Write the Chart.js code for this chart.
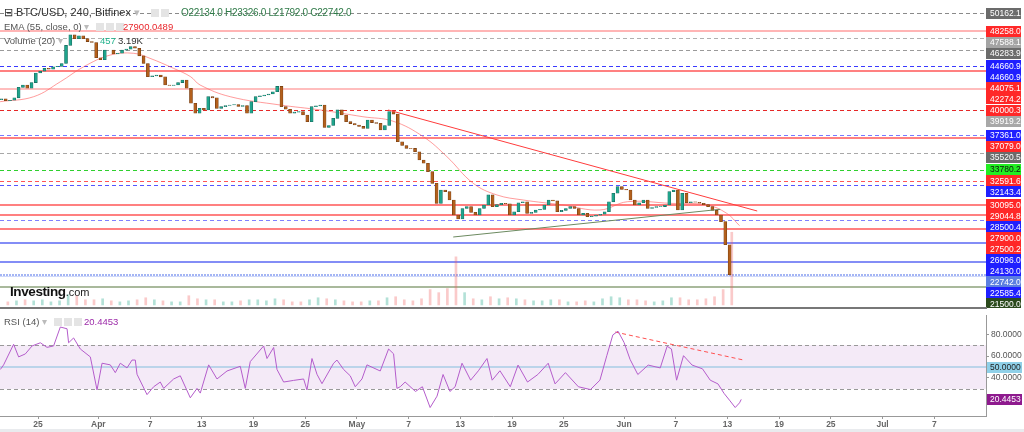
<!DOCTYPE html>
<html>
<head>
<meta charset="utf-8">
<title>BTC/USD 240 Bitfinex</title>
<script src="https://cdn.jsdelivr.net/npm/chart.js@4.4.0/dist/chart.umd.min.js"></script>
<style>
  body { margin: 0; background: #fff; font-family: Arial, "Liberation Sans", sans-serif; }
  #wrap { position: relative; width: 1024px; height: 432px; overflow: hidden; }
  #price { position: absolute; left: 0; top: 0; }
  #rsi { position: absolute; left: 0; top: 308px; }
  .txt { position: absolute; white-space: nowrap; }
  .ico { display: inline-block; width: 8px; height: 8px; background: #e4e4e4; margin-right: 2px; vertical-align: -1px; }
  #sep { position: absolute; left: 0; top: 307px; width: 987px; height: 2px; background: #777; }
  #foot { position: absolute; left: 0; top: 429px; width: 1024px; height: 3px; background: #e9ebee; }
</style>
</head>
<body>
<div id="wrap">
  <canvas id="price" width="1024" height="308"></canvas>
  <canvas id="rsi" width="1024" height="124"></canvas>
  <div id="sep"></div>
  <div id="foot"></div>

  <div class="txt" style="left:4px;top:6px;font-size:11px;color:#333;">&#8863; BTC/USD, 240, Bitfinex <span style="color:#bbb">&#9662;</span>
    <span class="ico" style="margin-left:8px"></span><span class="ico"></span></div>
  <div class="txt" style="left:181px;top:7px;font-size:10px;letter-spacing:-0.3px;color:#2f7a48;">O22134.0 H23326.0 L21792.0 C22742.0</div>
  <div class="txt" style="left:4px;top:21px;font-size:9.5px;color:#555;">EMA (55, close, 0) <span style="color:#bbb">&#9662;</span>
    <span class="ico" style="margin-left:4px"></span><span class="ico"></span><span class="ico"></span></div>
  <div class="txt" style="left:123px;top:21px;font-size:9.5px;color:#e8262b;">27900.0489</div>
  <div class="txt" style="left:4px;top:35px;font-size:9.5px;color:#555;">Volume (20) <span style="color:#bbb">&#9662;</span></div>
  <div class="txt" style="left:100px;top:35px;font-size:9.5px;color:#21b28c;">457</div>
  <div class="txt" style="left:118px;top:35px;font-size:9.5px;color:#333;">3.19K</div>
  <div class="txt" style="left:10px;top:284px;font-size:13.5px;font-weight:bold;color:#111;letter-spacing:-0.4px;">Investing<span style="font-weight:normal;font-size:11px;color:#222;letter-spacing:0">.com</span></div>
  <div class="txt" style="left:4px;top:316px;font-size:9.5px;color:#555;">RSI (14) <span style="color:#bbb">&#9662;</span>
    <span class="ico" style="margin-left:4px"></span><span class="ico"></span><span class="ico"></span></div>
  <div class="txt" style="left:84px;top:316px;font-size:9.5px;color:#9c2aa8;">20.4453</div>
</div>

<script>
// x axis is days counted from 1 Apr 2022
const xMin = -11.41;
const xMax = 103.0;
const tickDays = [-7, 0, 6, 12, 18, 24, 30, 36, 42, 48, 54, 61, 67, 73, 79, 85, 91, 97];
const tickLabels = ['25', 'Apr', '7', '13', '19', '25', 'May', '7', '13', '19', '25', 'Jun', '7', '13', '19', '25', 'Jul', '7'];

// 12h candles, first one starts 20 Mar 12:00
const firstDay = -11.5;
const stepDays = 0.5;
const firstOpen = 41100;
const closes = [
  41200,
  41000, 41050, 41300, 42400, 42650, 42300, 42900, 43900, 44100, 44400,
  44300, 44560, 44600, 44900, 46800, 47900, 47500, 47800, 47500, 47200,
  47100, 45500, 45300, 46300, 46300, 45900, 45970, 46300, 46400, 46660,
  46500, 45700, 44900, 43520, 43600, 43690, 43500, 42650, 42600, 42650,
  42900, 43170, 42300, 40730, 39680, 40200, 40030, 41420, 41300, 40200,
  40370, 40500, 40550, 40600, 40400, 40500, 39680, 40900, 41420, 41500,
  41600, 41700, 41940, 42500, 40370, 40100, 39680, 39800, 39850, 39500,
  38800, 40370, 40450, 40550, 38200, 38400, 39150, 40030, 39500, 38800,
  38600, 38450, 38300, 38100, 38980, 38700, 38630, 37930, 38400, 39850,
  39600, 36700, 36300, 36010, 36000, 35650, 34780, 34440, 33560, 32340,
  30240, 31640, 31460, 30590, 29020, 28600, 29700, 29890, 29300, 29020,
  29700, 30070, 31120, 29890, 30100, 30240, 30200, 29020, 29360, 30300,
  30410, 29190, 29300, 29540, 29600, 30070, 30590, 30500, 29360, 29500,
  29700, 29890, 29700, 29020, 29190, 28840, 28900, 29000, 29100, 29360,
  30400, 31300, 31990, 31700, 31640, 30590, 30070, 30300, 30590, 29720,
  29800, 29890, 29900, 30070, 31460, 31640, 29540, 31290, 30300, 30410,
  30350, 30250, 30100, 29890, 29500, 29020, 28320, 25900,
  22742
];

// daily volume (thousands), first day 20 Mar
const volFirstDay = -11;
const volumes = [
  0.3, 0.4, 0.5, 0.4, 0.5, 0.3, 0.4, 1.0, 0.9, 0.5,
  0.5, 0.6, 0.4, 0.3, 0.4, 0.5, 0.7, 0.5, 0.4, 0.3,
  0.3, 0.9, 0.6, 0.5, 0.5, 0.3, 0.3, 0.4, 0.5, 0.5,
  0.4, 0.6, 0.5, 0.3, 0.3, 0.5, 0.7, 0.6, 0.5, 0.4,
  0.3, 0.3, 0.4, 0.4, 0.7, 0.8, 0.5, 0.4, 0.6, 1.5,
  1.2, 1.6, 4.7, 1.2, 0.6, 0.5, 0.8, 0.6, 0.7, 0.6,
  0.5, 0.4, 0.4, 0.5, 0.5, 0.3, 0.3, 0.4, 0.3, 0.6,
  0.8, 0.7, 0.5, 0.5, 0.4, 0.3, 0.4, 0.7, 0.7, 0.5,
  0.5, 0.6, 0.8, 1.5, 7.1
];

// EMA 55 as it is drawn on the chart
const emaDays = [-11.4, -7.5, -4.4, -1.7, 1.4, 4.1, 6.0, 8.7, 10.7, 11.8, 15.3, 21.1, 25.75, 30.7, 34.2, 37.7, 40.45, 43.5, 46.25, 49.3, 53.9, 58.2, 61.4, 66.4, 70.6, 72.9, 74.4];
const emaValues = [40895, 41420, 42990, 44560, 45790, 45970, 45440, 44400, 43520, 42650, 41420, 40550, 40030, 39320, 38850, 37230, 35130, 32340, 31120, 30590, 30070, 29540, 30410, 30240, 30070, 29200, 27900];

// drawn trend lines
const redTrendDays = [33.64, 76.45];
const redTrendPrices = [40025, 29436];
const greenTrendDays = [41.18, 72.16];
const greenTrendPrices = [26711, 29615];

// horizontal levels with their right-hand price tags
const levelValues = [50162.1, 48258.0, 47588.1, 46283.9, 44660.9, 44660.9, 44075.1, 42274.2, 40000.3, 39919.2, 37361.0, 37079.0, 35520.5, 33780.2, 32591.6, 32143.4, 30095.0, 29044.8, 28500.4, 27900.0489, 27500.2, 26096.0, 24130.0, 22742.0, 22585.4, 21500.0];

// RSI (14)
const rsiDays = [-11.37, -10.99, -9.83, -9.25, -8.47, -7.69, -6.73, -5.95, -5.19, -4.41, -3.63, -3.45, -2.87, -2.09, -0.93, -0.15, 0.43, 1.39, 1.97, 2.55, 3.33, 3.91, 4.29, 4.49, 5.65, 6.42, 7.19, 7.58, 8.74, 9.51, 10.67, 11.45, 11.83, 12.8, 13.77, 14.93, 16.47, 17.05, 17.63, 19.18, 19.57, 20.34, 20.73, 21.5, 22.66, 23.82, 24.21, 24.79, 25.37, 25.95, 27.3, 27.69, 28.46, 29.23, 29.81, 30.59, 31.17, 32.71, 33.68, 34.26, 34.65, 35.03, 35.6, 36.8, 37.6, 38.5, 39.3, 40.0, 40.8, 41.4, 42.2, 43.2, 44.1, 45.1, 45.7, 46.6, 47.8, 48.7, 49.8, 51.0, 52.2, 53.0, 54.2, 55.7, 57.1, 58.2, 59.0, 59.7, 60.3, 61.0, 61.7, 62.6, 63.8, 65.2, 66.0, 66.5, 67.1, 67.9, 68.9, 70.1, 71.0, 71.9, 72.6, 73.3, 73.9, 74.4, 74.6];
const rsiValues = [47.8, 52, 70.8, 59.3, 62, 69.3, 72.2, 68, 69.3, 86.6, 85, 72.2, 76.6, 66.5, 59.3, 29.1, 53.5, 52, 44.9, 53.5, 49.2, 56.4, 56.4, 43.4, 24.8, 32, 36.3, 30.5, 39.1, 42, 21.9, 30.5, 26.2, 52, 39.1, 46.4, 50.7, 30.5, 55, 69.3, 57.8, 67.9, 47.8, 36.3, 37.8, 39.1, 29.1, 57.8, 43.4, 34.8, 53.5, 56.4, 47.8, 42, 32, 39.1, 52, 46.4, 66.5, 62.1, 30.5, 32, 36.3, 27.7, 32, 13, 23.4, 43.2, 27.7, 32, 53.5, 38, 46.6, 57.8, 38, 46.6, 32, 51.8, 36.3, 43.2, 53.5, 34.6, 44.9, 32, 29.4, 38, 60.4, 79.4, 82.8, 72.5, 57, 43.2, 51.8, 49.2, 69, 66.5, 38, 60.4, 51.8, 48.4, 38, 34.6, 26, 19.1, 13, 17.3, 20.4453];
const rsiTrendDays = [59.98, 75.06];
const rsiTrendValues = [82, 56.1];

// look of each level, same order as levelValues
const RED = 'rgb(255,40,40)', BLUE = '#1f1fff', GRAY = '#6b6b6b';
const RED_LINE = 'rgba(255,30,30,0.75)';
const BLUE_LINE = 'rgba(60,75,240,0.85)';
const levelStyle = [
  { line: '#8a8a8a', dash: [4, 3], bg: GRAY },
  { line: 'rgba(255,60,60,0.5)', w: 1.5, bg: RED },
  { line: '#b0b0b0', dash: [4, 3], bg: '#a4a4a4' },
  { line: '#9a9a9a', dash: [4, 3], bg: GRAY },
  { line: '#3a3aff', dash: [4, 3], bg: BLUE },
  { line: null, bg: BLUE },
  { line: RED_LINE, w: 1.5, bg: RED },
  { line: 'rgba(255,60,60,0.45)', w: 1.5, bg: RED },
  { line: 'rgb(230,40,40)', dash: [4, 3], bg: RED },
  { line: null, bg: '#a8a8a8' },
  { line: '#7a7aff', dash: [4, 3], bg: BLUE },
  { line: RED_LINE, w: 1.5, bg: RED },
  { line: '#a8a8a8', dash: [4, 3], bg: GRAY },
  { line: '#2fd02f', dash: [4, 3], bg: '#22ee22', fg: '#111' },
  { line: 'rgb(255,85,85)', dash: [4, 3], bg: RED },
  { line: '#5555ff', dash: [4, 3], bg: BLUE },
  { line: RED_LINE, w: 1.5, bg: RED },
  { line: RED_LINE, w: 1.5, bg: RED },
  { line: '#8080ff', dash: [4, 3], bg: BLUE },
  { line: null, bg: RED },
  { line: RED_LINE, w: 1.5, bg: RED },
  { line: BLUE_LINE, w: 1.5, bg: BLUE },
  { line: BLUE_LINE, w: 1.5, bg: BLUE },
  { line: 'rgba(90,120,235,0.55)', dash: [2, 1], w: 2, bg: '#5c7fe0' },
  { line: 'rgba(120,145,240,0.35)', w: 1, bg: BLUE },
  { line: '#a9b99c', w: 2, bg: '#2b4a1c' }
];

const levelsPlugin = {
  id: 'levels',
  beforeDatasetsDraw(chart) {
    const { ctx, chartArea: a, scales: { y } } = chart;
    ctx.save();
    levelValues.forEach((v, i) => {
      const st = levelStyle[i];
      if (!st.line) return;
      const w = st.w || 1;
      const py = Math.round(y.getPixelForValue(v)) + (w === 1 ? 0.5 : 0);
      ctx.strokeStyle = st.line;
      ctx.lineWidth = w;
      ctx.setLineDash(st.dash || []);
      ctx.beginPath();
      ctx.moveTo(a.left, py);
      ctx.lineTo(a.right, py);
      ctx.stroke();
    });
    ctx.restore();
  },
  afterDraw(chart) {
    const { ctx, chartArea: a, scales: { y } } = chart;
    const order = levelValues.map((v, i) => i).sort((p, q) => levelValues[q] - levelValues[p] || p - q);
    let last = -100;
    ctx.save();
    ctx.font = '8.5px Arial';
    ctx.textBaseline = 'middle';
    order.forEach(i => {
      let py = y.getPixelForValue(levelValues[i]);
      if (py < last + 11) py = last + 11;
      last = py;
      const st = levelStyle[i];
      ctx.fillStyle = st.bg;
      ctx.fillRect(a.right, Math.round(py - 5.5), 35, 11);
      ctx.fillStyle = st.fg || '#fff';
      ctx.fillText(levelValues[i].toFixed(1), a.right + 4, py + 0.5);
    });
    ctx.restore();
  }
};

// candle bodies: open is the previous close
const candles = closes.map((c, i) => ({
  x: firstDay + i * stepDays + stepDays / 2,
  y: [i === 0 ? firstOpen : closes[i - 1], c]
}));
const candleColors = candles.map(b => b.y[1] >= b.y[0] ? '#1fa48c' : '#b3601c');
const candleEdges = candles.map(b => b.y[1] >= b.y[0] ? '#17665a' : '#6e3a12');

const vols = volumes.map((v, k) => ({ x: volFirstDay + k + 0.5, y: v }));
const volColors = volumes.map((v, k) => {
  const i = 2 * k + 1;
  const open = closes[Math.max(i - 1, 0)];
  const close = closes[Math.min(i + 1, closes.length - 1)];
  return close >= open ? 'rgba(38,170,140,0.35)' : 'rgba(240,90,90,0.32)';
});

const pts = (xs, ys) => xs.map((d, i) => ({ x: d, y: ys[i] }));

new Chart(document.getElementById('price'), {
  type: 'bar',
  data: {
    datasets: [
      { type: 'bar', yAxisID: 'v', data: vols, backgroundColor: volColors, barThickness: 2, grouped: false, order: 5 },
      { type: 'line', data: pts(emaDays, emaValues), borderColor: 'rgba(255,90,90,0.6)', borderWidth: 1, pointRadius: 0, tension: 0.4, order: 4 },
      { type: 'bar', data: candles, backgroundColor: candleColors, borderColor: candleEdges, borderWidth: 0.6, borderSkipped: false, barThickness: 3, grouped: false, order: 3 },
      { type: 'line', data: pts(redTrendDays, redTrendPrices), borderColor: '#ff3c3c', borderWidth: 1, pointRadius: 0, order: 1 },
      { type: 'line', data: pts(greenTrendDays, greenTrendPrices), borderColor: '#6c8a60', borderWidth: 1, pointRadius: 0, order: 1 }
    ]
  },
  options: {
    responsive: false,
    animation: false,
    layout: { padding: { left: 0, right: 38, top: 0, bottom: 0 } },
    plugins: { legend: { display: false }, tooltip: { enabled: false } },
    scales: {
      x: { type: 'linear', min: xMin, max: xMax, offset: false, display: false },
      y: { type: 'linear', min: 19268, max: 51556, beginAtZero: false, display: false },
      v: { type: 'linear', min: -0.3, max: 29.8, display: false }
    }
  },
  plugins: [levelsPlugin]
});

const rsiPlugin = {
  id: 'rsiBand',
  beforeDatasetsDraw(chart) {
    const { ctx, chartArea: a, scales: { y } } = chart;
    const y70 = y.getPixelForValue(70), y30 = y.getPixelForValue(30), y50 = y.getPixelForValue(50);
    ctx.save();
    ctx.fillStyle = 'rgba(170,90,190,0.13)';
    ctx.fillRect(a.left, y70, a.right - a.left, y30 - y70);
    ctx.strokeStyle = '#999';
    ctx.lineWidth = 1;
    ctx.setLineDash([4, 3]);
    [y70, y30].forEach(py => {
      ctx.beginPath();
      ctx.moveTo(a.left, Math.round(py) + 0.5);
      ctx.lineTo(a.right, Math.round(py) + 0.5);
      ctx.stroke();
    });
    ctx.setLineDash([]);
    ctx.strokeStyle = '#a9cde6';
    ctx.lineWidth = 1.5;
    ctx.beginPath();
    ctx.moveTo(a.left, y50);
    ctx.lineTo(a.right, y50);
    ctx.stroke();
    ctx.restore();
  },
  afterDraw(chart) {
    const { ctx, chartArea: a, scales: { y } } = chart;
    const tags = [
      { v: 50, bg: '#8fd0e8', fg: '#222' },
      { v: rsiValues[rsiValues.length - 1], bg: '#8e1a8e', fg: '#fff' }
    ];
    ctx.save();
    ctx.font = '8.5px Arial';
    ctx.textBaseline = 'middle';
    tags.forEach(t => {
      const py = y.getPixelForValue(t.v);
      ctx.fillStyle = t.bg;
      ctx.fillRect(a.right + 1, Math.round(py - 5.5), 35, 11);
      ctx.fillStyle = t.fg;
      ctx.fillText(t.v.toFixed(4), a.right + 4, py + 0.5);
    });
    ctx.restore();
  }
};

new Chart(document.getElementById('rsi'), {
  type: 'line',
  data: {
    datasets: [
      { data: pts(rsiDays, rsiValues), borderColor: '#b45ccb', borderWidth: 1, pointRadius: 0, tension: 0 },
      { data: pts(rsiTrendDays, rsiTrendValues), borderColor: '#ff5050', borderWidth: 1, borderDash: [4, 3], pointRadius: 0 }
    ]
  },
  options: {
    responsive: false,
    animation: false,
    layout: { padding: { left: 0, right: 0, top: 1, bottom: 0 } },
    plugins: { legend: { display: false }, tooltip: { enabled: false } },
    scales: {
      x: {
        type: 'linear', min: xMin, max: xMax, offset: false,
        afterBuildTicks: s => { s.ticks = tickDays.map(v => ({ value: v })); },
        afterFit: s => { s.height = 16; },
        ticks: {
          autoSkip: false, maxRotation: 0, padding: 1, color: '#666',
          font: { size: 8.5, weight: 'bold' },
          callback: v => tickLabels[tickDays.indexOf(v)]
        },
        grid: { drawOnChartArea: false, tickLength: 3, color: '#999' },
        border: { color: '#999' }
      },
      y: {
        position: 'right', min: 5.26, max: 97.5,
        afterBuildTicks: s => { s.ticks = [40, 60, 80].map(v => ({ value: v })); },
        afterFit: s => { s.width = 38; },
        ticks: { color: '#555', font: { size: 8.5 }, padding: 2, callback: v => v.toFixed(4) },
        grid: { drawOnChartArea: false, tickLength: 3, color: '#999' },
        border: { color: '#999' }
      }
    }
  },
  plugins: [rsiPlugin]
});
</script>
</body>
</html>
